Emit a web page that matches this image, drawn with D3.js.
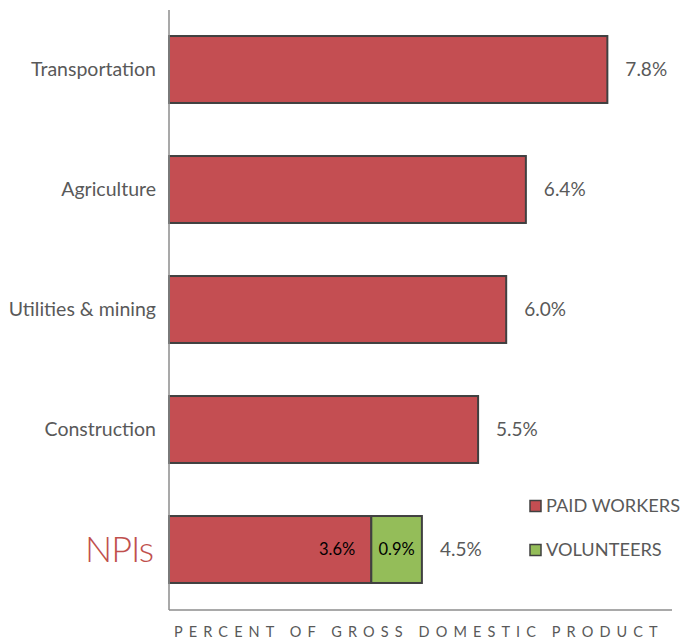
<!DOCTYPE html>
<html><head><meta charset="utf-8">
<script src="https://cdn.jsdelivr.net/npm/d3@7"></script>
<style>body{margin:0;background:#fff}svg{display:block}text{font-family:Lato,"Open Sans",sans-serif}</style>
</head><body><svg id="c" width="681" height="642"></svg>
<script>
const categories = ["Transportation","Agriculture","Utilities & mining","Construction","NPIs"];
const paidWorkers = [7.8, 6.35, 6.0, 5.5, 3.6];
const volunteers = [0, 0, 0, 0, 0.9];
const totalLabels = ["7.8%","6.4%","6.0%","5.5%","4.5%"];
const seriesNames = ["PAID WORKERS","VOLUNTEERS"];
const axisTitle = "PERCENT OF GROSS DOMESTIC PRODUCT";

const svg = d3.select("#c");
const red = "#c44e52", green = "#94bd59", edge = "#404040", grey = "#595959";
const x0 = 169;
const x = d3.scaleLinear().domain([0, 9]).range([x0, x0 + 9 * 56.2]);
const y = d3.scaleBand().domain(categories).range([9.5, 609.5]).paddingInner(0.442).paddingOuter(0.221);

svg.selectAll("rect.paid").data(categories).enter().append("rect")
  .attr("x", x(0)).attr("y", d => y(d)).attr("height", y.bandwidth())
  .attr("width", (d,i) => x(paidWorkers[i]) - x(0))
  .attr("fill", red).attr("stroke", edge).attr("stroke-width", 2);
svg.selectAll("rect.vol").data(categories.filter((d,i)=>volunteers[i]>0)).enter().append("rect")
  .attr("x", d => x(paidWorkers[categories.indexOf(d)])).attr("y", d => y(d)).attr("height", y.bandwidth())
  .attr("width", d => x(volunteers[categories.indexOf(d)]) - x(0))
  .attr("fill", green).attr("stroke", edge).attr("stroke-width", 2);

svg.append("line").attr("x1", x0).attr("x2", x0).attr("y1", 10).attr("y2", 610).attr("stroke", "#8c8c8c").attr("stroke-width", 1.5);
svg.append("line").attr("x1", x0).attr("x2", 672).attr("y1", 610).attr("y2", 610).attr("stroke", "#8c8c8c").attr("stroke-width", 1.5);

categories.forEach((c,i) => {
  const cy = y(c) + y.bandwidth()/2;
  if (c === "NPIs") {
    svg.append("text").attr("x", 153).attr("y", cy).attr("dy", "0.36em").attr("text-anchor","end")
      .attr("fill", "#c0504d").attr("font-size", 36).attr("font-weight", 300).attr("letter-spacing", -1)
      .text(c);
  } else {
    svg.append("text").attr("x", 156).attr("y", cy).attr("dy", "0.35em").attr("text-anchor","end")
      .attr("fill", grey).attr("font-size", 19.5).text(c);
  }
  const tot = paidWorkers[i] + volunteers[i];
  svg.append("text").attr("x", x(tot) + 18).attr("y", cy).attr("dy","0.35em")
    .attr("fill", grey).attr("font-size", 19).text(totalLabels[i]);
  if (volunteers[i] > 0) {
    svg.append("text").attr("x", x(paidWorkers[i]) - 16).attr("y", cy).attr("dy","0.35em").attr("text-anchor","end")
      .attr("fill", "#000").attr("font-size", 16.5).text(paidWorkers[i].toFixed(1) + "%");
    svg.append("text").attr("x", (x(paidWorkers[i]) + x(tot))/2).attr("y", cy).attr("dy","0.35em").attr("text-anchor","middle")
      .attr("fill", "#000").attr("font-size", 16.5).text(volunteers[i].toFixed(1) + "%");
  }
});

[[red, 506], [green, 550]].forEach(([col, ly], i) => {
  svg.append("rect").attr("x", 530).attr("y", ly - 5.5).attr("width", 11).attr("height", 11)
    .attr("fill", col).attr("stroke", edge).attr("stroke-width", 1.5);
  svg.append("text").attr("x", 546).attr("y", ly).attr("dy","0.35em").attr("fill", grey)
    .attr("font-size", 18.2).text(seriesNames[i]);
});

svg.append("text").attr("x", 174).attr("y", 637).attr("fill", grey).attr("font-size", 14.5)
  .attr("letter-spacing", 6.1).text(axisTitle);
</script></body></html>
